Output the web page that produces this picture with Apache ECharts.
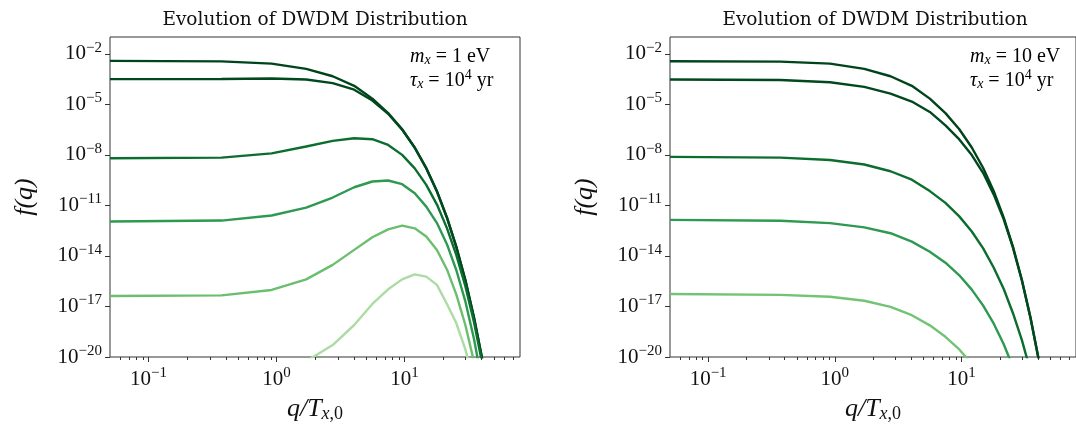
<!DOCTYPE html>
<html>
<head>
<meta charset="utf-8">
<title>Evolution of DWDM Distribution</title>
<script src="https://cdn.jsdelivr.net/npm/echarts@6/dist/echarts.min.js"></script>
<style>
  html, body { margin: 0; padding: 0; background: #fff; }
  #chart { width: 1076px; height: 430px; }
</style>
</head>
<body>
<div id="chart"></div>
<script>
// q / T_x,0 sample points
const qGrid = [0.05, 0.372, 0.916, 1.707, 2.749, 4.049, 5.615, 7.459, 9.595, 12.04, 14.81, 17.95, 21.48, 25.45, 29.93, 35.01, 40.83, 47.62];

// left panel, m_x = 1 eV
const left1 = [3.80e-3, 3.55e-3, 2.63e-3, 1.29e-3, 4.68e-4, 1.26e-4, 2.19e-5, 3.02e-6, 3.31e-7, 2.75e-8, 1.66e-9, 6.92e-11, 1.95e-12, 3.47e-14, 3.72e-16, 2.14e-18, 5.89e-21, 6.03e-24];
const left2 = [3.16e-4, 3.24e-4, 3.47e-4, 3.02e-4, 1.82e-4, 7.41e-5, 1.70e-5, 2.75e-6, 3.16e-7, 2.63e-8, 1.58e-9, 6.61e-11, 1.86e-12, 3.31e-14, 3.55e-16, 2.00e-18, 5.50e-21, 5.62e-24];
const left3 = [6.31e-9, 6.92e-9, 1.23e-8, 3.16e-8, 6.76e-8, 9.77e-8, 8.51e-8, 3.89e-8, 1.00e-8, 1.58e-9, 1.66e-10, 1.12e-11, 4.47e-13, 1.12e-14, 1.58e-16, 1.12e-18, 3.16e-21, 2.51e-24];
const left4 = [1.12e-12, 1.26e-12, 2.51e-12, 7.41e-12, 2.95e-11, 1.20e-10, 2.63e-10, 3.02e-10, 1.82e-10, 5.25e-11, 8.51e-12, 8.91e-13, 5.01e-14, 1.41e-15, 2.00e-17, 1.12e-19, 2.00e-22, 1.00e-25];
const left5 = [4.17e-17, 4.57e-17, 9.55e-17, 4.07e-16, 2.95e-15, 2.29e-14, 1.29e-13, 3.80e-13, 6.31e-13, 4.37e-13, 1.41e-13, 2.24e-14, 1.58e-15, 5.01e-17, 7.94e-19, 5.01e-21, 1.00e-23, 5.01e-27];
const left6 = [1.00e-25, 3.16e-24, 1.58e-22, 5.62e-21, 5.13e-20, 7.94e-19, 1.41e-17, 1.05e-16, 4.07e-16, 8.13e-16, 5.89e-16, 1.91e-16, 1.41e-17, 1.00e-18, 2.82e-20, 3.16e-22, 3.16e-25, 1.58e-28];

// right panel, m_x = 10 eV
const right1 = [3.63e-3, 3.47e-3, 2.63e-3, 1.29e-3, 4.68e-4, 1.26e-4, 2.19e-5, 3.02e-6, 3.31e-7, 2.75e-8, 1.66e-9, 6.92e-11, 1.95e-12, 3.47e-14, 3.72e-16, 2.14e-18, 5.89e-21, 6.03e-24];
const right2 = [3.02e-4, 2.82e-4, 2.04e-4, 1.10e-4, 4.37e-5, 1.48e-5, 3.55e-6, 5.62e-7, 8.32e-8, 9.77e-9, 8.32e-10, 4.37e-11, 1.55e-12, 3.09e-14, 3.47e-16, 2.04e-18, 5.62e-21, 5.75e-24];
const right3 = [7.59e-9, 6.92e-9, 5.01e-9, 2.69e-9, 1.07e-9, 3.39e-10, 7.08e-11, 1.41e-11, 2.24e-12, 2.82e-13, 2.82e-14, 2.00e-15, 1.12e-16, 3.98e-18, 1.00e-19, 1.41e-21, 1.00e-23, 3.16e-26];
const right4 = [1.38e-12, 1.23e-12, 8.91e-13, 5.01e-13, 2.24e-13, 7.08e-14, 1.78e-14, 3.98e-15, 7.08e-16, 1.00e-16, 1.12e-17, 9.55e-19, 5.89e-20, 2.51e-21, 7.94e-23, 1.26e-24, 1.26e-26, 5.01e-29];
const right5 = [5.50e-17, 4.90e-17, 3.80e-17, 2.19e-17, 9.55e-18, 3.02e-18, 7.59e-19, 1.58e-19, 2.82e-20, 3.98e-21, 3.98e-22, 3.16e-23, 2.00e-24, 7.94e-26, 2.51e-27, 5.01e-29, 5.01e-31, 2.51e-33];

const leftCurves = [left1, left2, left3, left4, left5, left6];
const rightCurves = [right1, right2, right3, right4, right5];
const leftColors = ['#00441b', '#00481d', '#0b6e2e', '#2e9950', '#6abe6e', '#acdca4'];
const rightColors = ['#00441b', '#00481d', '#0b6e2e', '#2e9950', '#72c374'];

// axis ranges and ticks
const xRange = [0.05, 80];
const yRange = [1e-20, 1e-1];
const minorTicks = [0.06, 0.07, 0.08, 0.09, 0.2, 0.3, 0.4, 0.5, 0.6, 0.7, 0.8, 0.9, 2, 3, 4, 5, 6, 7, 8, 9, 20, 30, 40, 50, 60, 70];
const titleText = 'Evolution of DWDM Distribution';
const massLabels = ['1', '10'];

const serif = "'Liberation Serif', 'DejaVu Serif', serif";
const ink = '#111';
const axisColor = '#333';

function powLabel(v) {
  const e = Math.round(Math.log10(v));
  const s = e < 0 ? '\u2212' + (-e) : String(e);
  return '{b|10}{s|' + s + '}';
}

const tickRich = {
  b: { fontFamily: serif, fontSize: 21, color: ink },
  s: { fontFamily: serif, fontSize: 15, color: ink, padding: [0, 0, 12, 0] }
};

const grids = [
  { left: 110, top: 37, width: 410, height: 320 },
  { left: 670, top: 37, width: 410, height: 320 }
].map(g => Object.assign(g, { show: true, borderColor: axisColor, borderWidth: 1, backgroundColor: 'transparent' }));

function makeX(i) {
  return {
    type: 'log', logBase: 10, gridIndex: i,
    min: xRange[0], max: xRange[1],
    axisLine: { show: false },
    axisTick: { show: true, inside: false, length: 5, lineStyle: { color: axisColor, width: 1 } },
    axisLabel: { formatter: powLabel, rich: tickRich, margin: 9, showMinLabel: false, showMaxLabel: false },
    splitLine: { show: false },
    name: '{i|q/T}{si|x}{sn|,0}',
    nameLocation: 'middle',
    nameGap: 38,
    nameTextStyle: {
      rich: {
        i: { fontFamily: serif, fontStyle: 'italic', fontSize: 26, color: ink },
        si: { fontFamily: serif, fontStyle: 'italic', fontSize: 18, color: ink, padding: [10, 0, 0, 0] },
        sn: { fontFamily: serif, fontSize: 18, color: ink, padding: [10, 0, 0, 0] }
      }
    }
  };
}

function makeY(i) {
  return {
    type: 'log', logBase: 10, gridIndex: i,
    min: yRange[0], max: yRange[1], interval: 3,
    axisLine: { show: false },
    axisTick: { show: true, inside: false, length: 5, lineStyle: { color: axisColor, width: 1 } },
    axisLabel: { formatter: powLabel, rich: tickRich, margin: 8, showMaxLabel: false },
    splitLine: { show: false },
    name: 'f(q)',
    nameLocation: 'middle',
    nameGap: 72,
    nameTextStyle: { fontFamily: serif, fontStyle: 'italic', fontSize: 26, color: ink }
  };
}

function lineSeries(curves, colors, idx) {
  return curves.map((c, k) => ({
    type: 'line',
    xAxisIndex: idx, yAxisIndex: idx,
    data: qGrid.map((q, j) => [q, c[j]]),
    showSymbol: false,
    symbol: 'none',
    silent: true,
    lineStyle: { width: 2.4, color: colors[k] },
    itemStyle: { color: colors[k] },
    z: 2
  }));
}

function minorSeries(idx) {
  return {
    type: 'custom',
    xAxisIndex: idx, yAxisIndex: idx,
    silent: true,
    clip: false,
    data: minorTicks.map(v => [v, yRange[0]]),
    renderItem: function (params, api) {
      const p = api.coord([api.value(0), api.value(1)]);
      const x = Math.round(p[0]) + 0.5;
      return {
        type: 'line',
        shape: { x1: x, y1: p[1], x2: x, y2: p[1] + 3 },
        style: { stroke: axisColor, lineWidth: 1 }
      };
    }
  };
}

const annRich = {
  i: { fontFamily: serif, fontStyle: 'italic', fontSize: 20, color: ink, lineHeight: 23 },
  n: { fontFamily: serif, fontSize: 20, color: ink, lineHeight: 23 },
  sub: { fontFamily: serif, fontStyle: 'italic', fontSize: 14, color: ink, padding: [8, 0, 0, 0] },
  sup: { fontFamily: serif, fontSize: 14, color: ink, padding: [0, 0, 11, 0] }
};

const graphics = [];
[0, 1].forEach(i => {
  const g = grids[i];
  graphics.push({
    type: 'text',
    x: g.left + g.width / 2, y: 20,
    style: { text: titleText, align: 'center', verticalAlign: 'middle', fontFamily: "'DejaVu Serif', serif", fontSize: 18.5, fill: ink }
  });
  graphics.push({
    type: 'text',
    x: g.left + 300, y: 45,
    style: {
      text: '{i|m}{sub|x}{n| = ' + massLabels[i] + ' eV}\n{i|\u03c4}{sub|x}{n| = 10}{sup|4}{n| yr}',
      rich: annRich, align: 'left', verticalAlign: 'top'
    }
  });
});

const chart = echarts.init(document.getElementById('chart'));
chart.setOption({
  animation: false,
  backgroundColor: '#fff',
  grid: grids,
  xAxis: [makeX(0), makeX(1)],
  yAxis: [makeY(0), makeY(1)],
  series: lineSeries(leftCurves, leftColors, 0)
    .concat(lineSeries(rightCurves, rightColors, 1))
    .concat([minorSeries(0), minorSeries(1)]),
  graphic: graphics
});
</script>
</body>
</html>
